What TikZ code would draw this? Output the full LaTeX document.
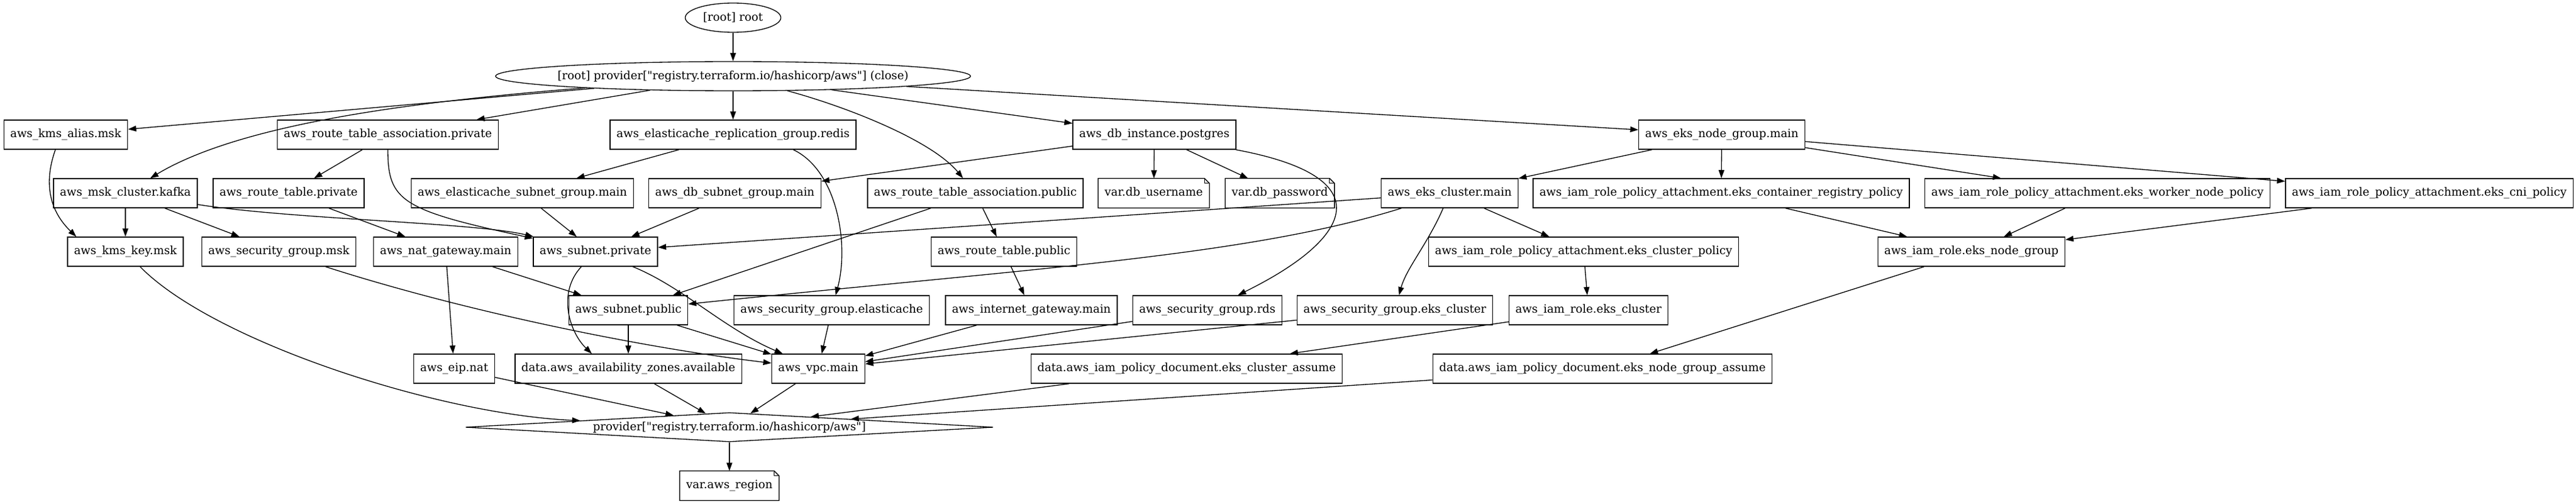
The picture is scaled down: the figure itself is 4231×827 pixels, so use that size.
\documentclass[tikz,border=0pt]{standalone}
\usepackage{fontspec}
\setmainfont{DejaVu Serif}[Ligatures=TeXOff]
\usetikzlibrary{shapes.geometric,arrows.meta,calc}
\begin{document}
\begin{tikzpicture}[x=0.75pt,y=-0.75pt,
  font=\fontsize{14pt}{17pt}\selectfont,
  box/.style={draw, rectangle, line width=1pt, minimum height=36pt, inner xsep=7.9pt, inner ysep=0pt},
  notebox/.style={rectangle, minimum height=36pt, inner xsep=7.9pt, inner ysep=0pt},
  oval/.style={draw, ellipse, line width=1pt, inner xsep=-30pt, inner ysep=0pt, minimum height=36pt},
  dia/.style={draw, diamond, aspect=18, line width=1pt, inner xsep=-30pt, inner ysep=0pt, minimum height=36pt, minimum width=650pt},
  edge/.style={line width=1pt, -{Triangle[length=10pt,width=7pt]}},
]
\useasboundingbox (0,0) rectangle (4231,827);

% row 0-1
\node[oval, minimum width=117.75pt] (root) at (1204,29) {[root] root};
\node[oval, minimum width=585pt] (provclose) at (1204,125) {[root] provider["registry.terraform.io/hashicorp/aws"] (close)};

% row 2
\node[box] (kmsalias) at (108,221) {aws\_kms\_alias.msk};
\node[box] (rtapriv) at (637,221) {aws\_route\_table\_association.private};
\node[box] (redis) at (1204,221) {aws\_elasticache\_replication\_group.redis};
\node[box] (postgres) at (1896,221) {aws\_db\_instance.postgres};
\node[box] (eksng) at (2828,221) {aws\_eks\_node\_group.main};

% row 3
\node[box] (msk) at (206,317) {aws\_msk\_cluster.kafka};
\node[box] (rtpriv) at (474,317) {aws\_route\_table.private};
\node[box] (ecsubnet) at (858,317) {aws\_elasticache\_subnet\_group.main};
\node[box] (dbsubnet) at (1207,317) {aws\_db\_subnet\_group.main};
\node[box] (rtapub) at (1602,317) {aws\_route\_table\_association.public};
\node[notebox] (dbuser) at (1895,317) {var.db\_username};
\node[notebox] (dbpass) at (2102,317) {var.db\_password};
\node[box] (ekscluster) at (2381,317) {aws\_eks\_cluster.main};
\node[box] (ecrpol) at (2827,317) {aws\_iam\_role\_policy\_attachment.eks\_container\_registry\_policy};
\node[box] (workerpol) at (3445,317) {aws\_iam\_role\_policy\_attachment.eks\_worker\_node\_policy};
\node[box] (cnipol) at (3990,317) {aws\_iam\_role\_policy\_attachment.eks\_cni\_policy};

% row 4
\node[box] (kmskey) at (206,413) {aws\_kms\_key.msk};
\node[box] (sgmsk) at (458,413) {aws\_security\_group.msk};
\node[box] (nat) at (732,413) {aws\_nat\_gateway.main};
\node[box] (subpriv) at (978,413) {aws\_subnet.private};
\node[box] (rtpub) at (1649,413) {aws\_route\_table.public};
\node[box] (clusterpol) at (2601,413) {aws\_iam\_role\_policy\_attachment.eks\_cluster\_policy};
\node[box] (ngrole) at (3238,413) {aws\_iam\_role.eks\_node\_group};

% row 5
\node[box] (subpub) at (1032,509) {aws\_subnet.public};
\node[box] (sgec) at (1366,509) {aws\_security\_group.elasticache};
\node[box] (igw) at (1694,509) {aws\_internet\_gateway.main};
\node[box] (sgrds) at (1983,509) {aws\_security\_group.rds};
\node[box] (sgeks) at (2291,509) {aws\_security\_group.eks\_cluster};
\node[box] (clusterrole) at (2609,509) {aws\_iam\_role.eks\_cluster};

% row 6
\node[box] (eip) at (746,605) {aws\_eip.nat};
\node[box] (azs) at (1032,605) {data.aws\_availability\_zones.available};
\node[box] (vpc) at (1344,605) {aws\_vpc.main};
\node[box] (clusterassume) at (1949,605) {data.aws\_iam\_policy\_document.eks\_cluster\_assume};
\node[box] (ngassume) at (2632,605) {data.aws\_iam\_policy\_document.eks\_node\_group\_assume};

% row 7-8
\node[dia] (prov) at (1198,701) {provider["registry.terraform.io/hashicorp/aws"]};
\node[notebox] (region) at (1198,797) {var.aws\_region};

% note outlines
\foreach \n in {dbuser,dbpass,region} {
  \draw[line width=1pt] (\n.south west) -- (\n.north west) -- ([xshift=-6pt]\n.north east)
    -- ([yshift=-6pt]\n.north east) -- (\n.south east) -- cycle;
  \draw[line width=0.6pt] ([xshift=-6pt]\n.north east) |- ([yshift=-6pt]\n.north east);
}

% edges
\draw[edge] (root) -- (provclose);
\draw[edge] (provclose) -- (kmsalias);
\draw[edge] (provclose) .. controls (700,165) and (400,200) .. (msk);
\draw[edge] (provclose) -- (rtapriv);
\draw[edge] (provclose) -- (redis);
\draw[edge] (provclose) .. controls (1390,175) and (1530,230) .. (rtapub);
\draw[edge] (provclose) -- (postgres);
\draw[edge] (provclose) -- (eksng);

\draw[edge] ($(kmsalias.south)+(-17,0)$) .. controls (75,290) and (75,340) .. ($(kmskey.north west)+(15,0)$);
\draw[edge] (rtapriv) -- (rtpriv);
\draw[edge] (rtapriv.south) .. controls (637,330) and (660,345) .. (subpriv);
\draw[edge] (redis) -- (ecsubnet);
\draw[edge] ($(redis.south)+(99,0)$) .. controls (1375,280) and (1395,400) .. (sgec);
\draw[edge] (postgres) -- (dbsubnet);
\draw[edge] (postgres) -- (dbuser);
\draw[edge] (postgres) -- (dbpass);
\draw[edge] (postgres) .. controls (2270,290) and (2225,390) .. (sgrds);
\draw[edge] (eksng) -- (ekscluster);
\draw[edge] (eksng) -- (ecrpol);
\draw[edge] (eksng) -- (workerpol);
\draw[edge] (eksng) -- (cnipol);

\draw[edge] (msk) -- (kmskey);
\draw[edge] (msk) -- (sgmsk);
\draw[edge] (msk) .. controls (480,360) and (780,365) .. (subpriv);
\draw[edge] (rtpriv) -- (nat);
\draw[edge] (ecsubnet) -- (subpriv);
\draw[edge] (dbsubnet) -- (subpriv);
\draw[edge] (rtapub) -- (rtpub);
\draw[edge] (rtapub) -- (subpub);
\draw[edge] (ekscluster) -- (subpriv);
\draw[edge] (ekscluster) .. controls (2050,420) and (1700,440) .. (subpub);
\draw[edge] (ekscluster) .. controls (2345,400) and (2310,440) .. (sgeks);
\draw[edge] (ekscluster) -- (clusterpol);
\draw[edge] (ecrpol) -- (ngrole);
\draw[edge] (workerpol) -- (ngrole);
\draw[edge] (cnipol) -- (ngrole);

\draw[edge] (kmskey) .. controls (350,560) and (720,680) .. (prov);
\draw[edge] (sgmsk) .. controls (760,510) and (1050,570) .. (vpc);
\draw[edge] (nat) -- (eip);
\draw[edge] (nat) -- (subpub);
\draw[edge] (subpriv) .. controls (915,480) and (935,545) .. ($(azs.north)+(-60,0)$);
\draw[edge] (subpriv) .. controls (1120,470) and (1190,540) .. (vpc);
\draw[edge] (rtpub) -- (igw);
\draw[edge] (clusterpol) -- (clusterrole);
\draw[edge] (ngrole) -- (ngassume);

\draw[edge] (subpub) -- (azs);
\draw[edge] (subpub) -- (vpc);
\draw[edge] (sgec) -- (vpc);
\draw[edge] (igw) -- (vpc);
\draw[edge] (sgrds) -- (vpc);
\draw[edge] (sgeks) -- (vpc);
\draw[edge] (clusterrole) -- (clusterassume);

\draw[edge] (eip) -- (prov);
\draw[edge] (azs) -- (prov);
\draw[edge] (vpc) -- (prov);
\draw[edge] (clusterassume) -- (prov);
\draw[edge] (ngassume) -- (prov);
\draw[edge] (prov) -- (region);
\end{tikzpicture}
\end{document}
